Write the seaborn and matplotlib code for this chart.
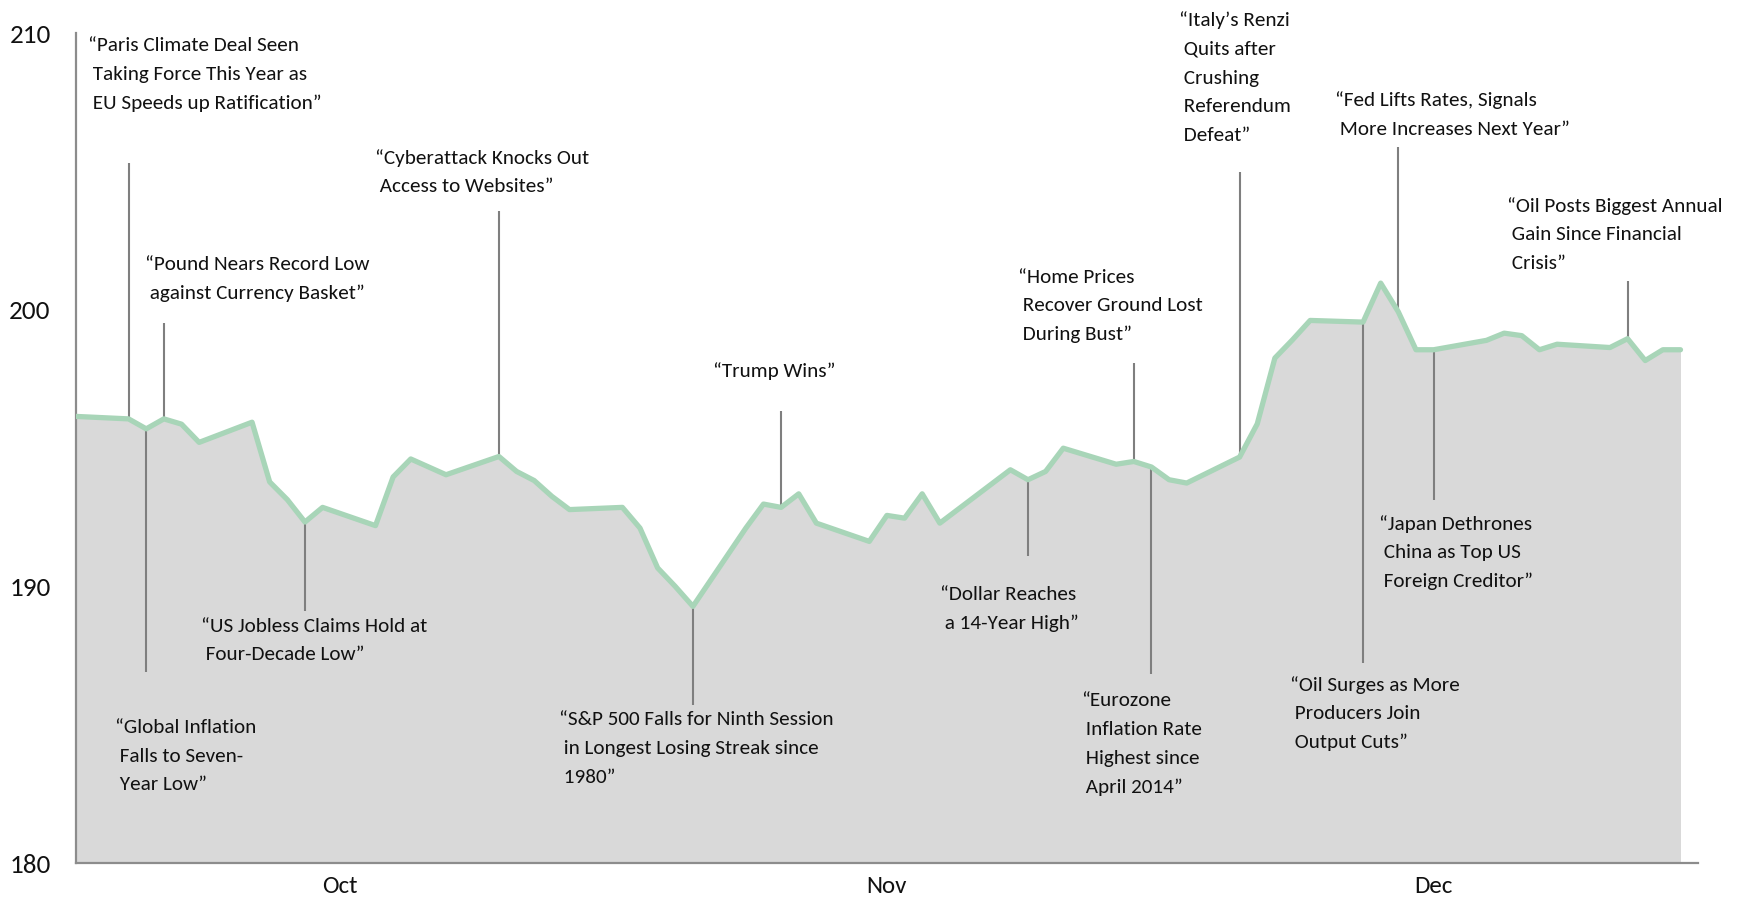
import pandas as pd
import seaborn as sns
import matplotlib
matplotlib.use('Agg')
import matplotlib.pyplot as plt

# daily closes
dates = ['2016-09-30', '2016-10-03', '2016-10-04', '2016-10-05', '2016-10-06', '2016-10-07',
         '2016-10-10', '2016-10-11', '2016-10-12', '2016-10-13', '2016-10-14',
         '2016-10-17', '2016-10-18', '2016-10-19', '2016-10-21',
         '2016-10-24', '2016-10-25', '2016-10-26', '2016-10-27', '2016-10-28',
         '2016-10-31', '2016-11-01', '2016-11-02', '2016-11-03', '2016-11-04',
         '2016-11-07', '2016-11-08', '2016-11-09', '2016-11-10', '2016-11-11',
         '2016-11-14', '2016-11-15', '2016-11-16', '2016-11-17', '2016-11-18',
         '2016-11-22', '2016-11-23', '2016-11-24', '2016-11-25',
         '2016-11-28', '2016-11-29', '2016-11-30', '2016-12-01', '2016-12-02',
         '2016-12-05', '2016-12-06', '2016-12-07', '2016-12-08', '2016-12-09',
         '2016-12-12', '2016-12-13', '2016-12-14', '2016-12-15', '2016-12-16',
         '2016-12-19', '2016-12-20', '2016-12-21', '2016-12-22', '2016-12-23',
         '2016-12-26', '2016-12-27', '2016-12-28', '2016-12-29', '2016-12-30']
values = [196.15, 196.06, 195.70, 196.06, 195.87, 195.21,
          195.94, 193.78, 193.14, 192.33, 192.86,
          192.20, 193.96, 194.61, 194.04,
          194.70, 194.16, 193.83, 193.26, 192.78,
          192.86, 192.11, 190.67, 190.00, 189.28,
          192.11, 192.98, 192.86, 193.35, 192.29,
          191.63, 192.57, 192.47, 193.35, 192.29,
          194.22, 193.86, 194.16, 195.00,
          194.42, 194.52, 194.32, 193.86, 193.74,
          194.68, 195.88, 198.26, 198.92, 199.62,
          199.56, 200.97, 199.93, 198.56, 198.56,
          198.90, 199.16, 199.07, 198.56, 198.76,
          198.64, 198.96, 198.17, 198.56, 198.56]

month_ticks = ['2016-10-15', '2016-11-15', '2016-12-16']
month_labels = ['Oct', 'Nov', 'Dec']
y_ticks = [180, 190, 200, 210]

headlines = [
    ['\u201cParis Climate Deal Seen', ' Taking Force This Year as', ' EU Speeds up Ratification\u201d'],
    ['\u201cGlobal Inflation', ' Falls to Seven-', ' Year Low\u201d'],
    ['\u201cPound Nears Record Low', ' against Currency Basket\u201d'],
    ['\u201cUS Jobless Claims Hold at', ' Four-Decade Low\u201d'],
    ['\u201cCyberattack Knocks Out', ' Access to Websites\u201d'],
    ['\u201cS&P 500 Falls for Ninth Session', ' in Longest Losing Streak since', ' 1980\u201d'],
    ['\u201cTrump Wins\u201d'],
    ['\u201cDollar Reaches', ' a 14-Year High\u201d'],
    ['\u201cHome Prices', ' Recover Ground Lost', ' During Bust\u201d'],
    ['\u201cEurozone', ' Inflation Rate', ' Highest since', ' April 2014\u201d'],
    ['\u201cItaly\u2019s Renzi', ' Quits after', ' Crushing', ' Referendum', ' Defeat\u201d'],
    ['\u201cOil Surges as More', ' Producers Join', ' Output Cuts\u201d'],
    ['\u201cFed Lifts Rates, Signals', ' More Increases Next Year\u201d'],
    ['\u201cJapan Dethrones', ' China as Top US', ' Foreign Creditor\u201d'],
    ['\u201cOil Posts Biggest Annual', ' Gain Since Financial', ' Crisis\u201d'],
]
headline_dates = ['2016-10-03', '2016-10-04', '2016-10-05', '2016-10-13', '2016-10-24',
                  '2016-11-04', '2016-11-09', '2016-11-23', '2016-11-29', '2016-11-30',
                  '2016-12-05', '2016-12-12', '2016-12-14', '2016-12-16', '2016-12-27']

# layout: label left edge (days after start), first line centre (value units), leader end (value units)
label_x = [0.67, 2.24, 3.95, 7.10, 17.0, 27.4, 36.16, 49.02, 53.44, 57.03, 62.58, 68.83, 71.41, 73.93, 81.18]
label_y = [209.60, 184.96, 201.68, 188.62, 205.54, 185.24, 197.86, 189.78, 201.24, 185.92,
           210.52, 186.49, 207.63, 192.32, 203.81]
leader_end = [205.30, 186.89, 199.53, 189.10, 203.57, 185.72, 196.33, 191.11, 198.09, 186.85,
              204.98, 187.25, 205.90, 193.12, 201.04]

df = pd.DataFrame({'date': pd.to_datetime(dates), 'value': values})
start = df['date'].iloc[0]

sns.set_style('white')
plt.rcParams['font.family'] = ['Carlito', 'Lato', 'DejaVu Sans']

fig = plt.figure(figsize=(17.44, 9), dpi=100)
ax = fig.add_axes([0.0434, 0.0411, 0.9303, 0.9218])

ax.fill_between(df['date'], 180, df['value'], color='#d9d9d9', lw=0, zorder=1)
sns.lineplot(data=df, x='date', y='value', color='#a8d5b8', lw=3.8, ax=ax, zorder=3,
             solid_joinstyle='round', solid_capstyle='round')

# leader lines + headline labels
lookup = df.set_index('date')['value']
pitch = 20.7  # points between label lines
for i, lines in enumerate(headlines):
    d = pd.Timestamp(headline_dates[i])
    ax.vlines(d, lookup[d], leader_end[i], color='#7f7f7f', lw=1.5, zorder=2)
    tx = start + pd.Timedelta(days=label_x[i])
    for j, line in enumerate(lines):
        ax.annotate(line, xy=(tx, label_y[i]), xytext=(0, -j * pitch), textcoords='offset points',
                    ha='left', va='center_baseline', fontsize=15.2, color='#111111',
                    annotation_clip=False)

ax.set_xlim(start, pd.Timestamp('2016-12-31'))
ax.set_ylim(180, 210)
ax.set_yticks(y_ticks)
ax.set_xticks(pd.to_datetime(month_ticks))
ax.set_xticklabels(month_labels)
ax.set_xlabel('')
ax.set_ylabel('')
ax.tick_params(axis='both', length=0, colors='#111111')
ax.tick_params(axis='y', pad=18, labelsize=19.5)
ax.tick_params(axis='x', pad=9, labelsize=18)

for s in ['top', 'right']:
    ax.spines[s].set_visible(False)
for s in ['left', 'bottom']:
    ax.spines[s].set_color('#8c8c8c')
    ax.spines[s].set_linewidth(1.6)

fig.savefig('out.png', dpi=100)
